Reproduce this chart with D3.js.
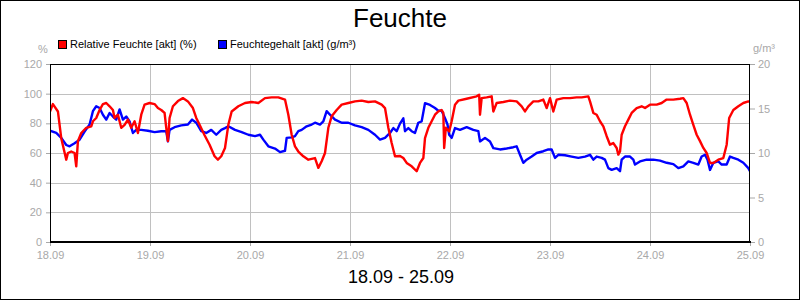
<!DOCTYPE html>
<html><head><meta charset="utf-8">
<script src="https://cdn.jsdelivr.net/npm/d3@7"></script>
<style>
body{margin:0;background:#fff;}
svg{display:block;font-family:"Liberation Sans",Arial,sans-serif;}
</style></head>
<body><svg id="c" width="800" height="300"></svg>
<script>
// ---- data ----
const dayLabels = ["18.09","19.09","20.09","21.09","22.09","23.09","24.09","25.09"];
const leftTicks = [0,20,40,60,80,100,120];
const rightTicks = [0,5,10,15,20];
const seriesNames = ["Relative Feuchte [akt] (%)","Feuchtegehalt [akt] (g/m³)"];
// hours since 18.09 00:00
const rhHours = [0,0.7,1.9,2.7,3.9,4.3,5.1,5.9,6.3,6.7,7.5,8.7,9.9,10.3,11.1,11.9,12.7,13.5,14.3,15.1,15.5,16.3,17.1,17.9,18.7,19.5,20.3,21.1,21.9,22.7,23.9,25.1,25.9,26.7,27.5,27.9,28.3,28.7,29.5,30.7,31.9,33.1,34.3,35.1,35.9,37.1,38.3,39.5,40.3,41.1,42.0,42.8,43.6,45.2,46.8,48.4,50.0,51.6,53.2,54.8,56.4,57.2,58.0,58.8,59.6,60.8,62.0,63.6,64.4,65.2,66.0,66.8,67.6,68.8,70.0,71.6,73.2,74.8,76.4,78.0,79.6,80.4,81.2,82.0,82.8,84.0,84.8,85.6,86.8,88.0,88.8,89.6,90.0,90.8,91.6,92.4,93.2,94.0,94.4,94.6,95.0,95.8,96.4,97.2,98.0,100.0,102.4,103.0,103.2,103.6,104.8,106.0,106.4,107.2,108.8,110.4,112.0,113.2,114.0,114.8,116.0,117.2,118.4,119.2,120.0,120.8,121.6,123.2,124.8,126.4,127.6,129.2,129.6,130.4,131.2,132.0,132.8,133.6,134.4,135.2,136.0,136.4,136.8,137.2,138.0,138.8,139.6,140.8,142.0,142.8,144.0,145.6,146.8,148.0,149.6,151.2,152.0,152.8,153.6,154.4,155.2,156.0,156.8,157.6,158.4,159.2,160.4,161.6,162.4,163.0,164.0,165.2,166.4,167.6,168.0];
const rhValues = [88,93,88,70,55.5,60,61,60,51,68,73.5,77,78,81.4,83.6,89,93,93.7,91.5,89,83.6,85.8,77,79,82.5,77,81.4,73.5,85.8,92.6,93.7,93,90.3,89,87,77,68,83.6,91.5,95,97,94.8,90.3,83.6,79,72,65.6,57.8,55.5,57.8,63.4,79,88,91.5,93.7,94.4,93.7,97,97.5,97.5,96,85.8,72.3,64.5,61,57.8,55.5,56.6,50,54.4,60,77,84.7,89,92.6,93.7,94.8,95.3,94.4,94.8,92.6,90.3,77,66.7,57.8,58,56.6,53.3,51,47.7,53.3,56.6,70,77,81.4,85.8,88,89,87,63.4,77,74.6,81.4,92.6,95.3,96.6,98.2,99.3,85.8,97,97.5,98.2,88,93.7,94.4,95.3,94.8,91.5,88,91.5,94.8,94.8,96,90.3,97,88,96,97,97,97.5,97.5,98.2,94.8,87,85.8,81.4,78,71.3,65.6,66.7,63.4,58.9,61,72.3,78,82.5,87,90.3,91.5,90.3,92.6,92.6,93.7,96,96,96.6,97,93.7,85.8,79,72.3,68,63.4,60,53.3,53.3,55.5,56.6,65.6,83.6,89,91.5,93.7,94.8,94.4];
const ahHours = [0,1.5,2.7,3.9,4.7,5.9,7.1,8.3,9.5,10.3,11.1,11.9,12.7,13.5,14.3,15.1,15.9,16.7,17.5,18.3,19.1,19.9,20.7,21.9,23.5,25.1,26.7,27.9,28.3,28.7,29.9,31.5,33.1,34.1,35.1,36.3,37.5,38.7,39.9,41.1,42.0,42.8,44.4,46.0,47.6,49.2,50.4,51.2,52.4,54.0,55.2,56.4,56.8,58.0,58.8,59.6,60.4,61.6,62.8,63.6,64.8,65.6,66.4,67.2,68.4,70.0,71.6,73.2,74.8,76.4,78.0,79.2,80.4,81.6,82.4,83.2,84.0,84.8,85.2,86.0,86.8,87.6,88.4,89.2,90.0,91.2,92.4,93.2,94.0,94.8,95.4,95.8,96.4,97.2,98.4,100.0,101.6,102.8,103.2,104.4,105.6,106.4,108.0,109.6,111.2,112.0,112.8,113.6,114.4,115.6,116.8,118.4,119.6,120.4,121.2,122.0,123.6,125.2,126.8,128.4,129.6,130.4,131.2,132.4,133.2,134.0,134.8,136.0,136.8,137.2,138.0,139.2,140.0,140.4,141.6,143.2,144.8,146.4,148.0,149.6,150.8,152.0,153.2,154.4,155.6,156.4,157.2,157.8,158.4,159.2,160.4,161.2,162.4,163.2,164.0,165.2,166.4,167.6,168.0];
const ahValues = [12.5,12.25,11.7,10.9,10.75,11.1,11.5,12.4,13.2,14.7,15.25,15.05,14.3,13.75,14.5,14.1,13.75,14.9,13.75,14.1,13.55,12.25,12.6,12.6,12.5,12.35,12.45,12.45,11.3,12.6,12.9,13.1,13.2,13.75,13.4,12.45,12.25,12.6,12.05,12.6,12.8,13.0,12.6,12.35,12.05,11.9,12.05,11.5,10.75,10.5,10.1,10.25,11.7,11.75,11.9,12.45,12.6,13.0,13.2,13.4,13.2,13.55,14.7,14.3,13.75,13.4,13.4,13.1,12.9,12.6,12.05,11.5,11.7,12.25,12.8,12.45,13.3,13.9,12.45,12.8,12.45,12.25,13.4,13.55,15.6,15.4,15.05,14.75,14.75,13.9,13.2,12.05,11.7,12.8,12.6,12.9,12.6,12.45,11.3,11.7,11.3,10.55,10.4,10.5,10.65,10.75,9.8,8.9,9.25,9.6,10.0,10.2,10.4,10.4,9.45,9.8,9.75,9.6,9.45,9.6,9.8,9.25,9.6,9.45,9.25,8.3,8.1,8.3,7.95,9.25,9.6,9.6,9.25,8.7,9.05,9.25,9.25,9.15,8.9,8.75,8.3,8.5,9.05,8.9,8.7,9.6,9.8,9.25,8.1,8.9,9.05,8.7,8.7,9.6,9.45,9.25,8.9,8.3,7.95];

// ---- layout ----
const svg = d3.select("#c");
const L=50, R=750, T=64, B=242;
const grey="#a8a8a8", gridC="#c0c0c0";
const x = d3.scaleLinear().domain([0,168]).range([L,R]);
const yL = d3.scaleLinear().domain([0,120]).range([B,T]);
const yR = d3.scaleLinear().domain([0,20]).range([B,T]);

svg.append("rect").attr("x",0.5).attr("y",0.5).attr("width",799).attr("height",299)
  .attr("fill","#fff").attr("stroke","#000");

// grid
const g = svg.append("g");
g.selectAll(".hg").data(leftTicks.filter(d=>d>0&&d<120)).join("line")
  .attr("x1",L).attr("x2",R).attr("y1",d=>Math.round(yL(d))+0.5).attr("y2",d=>Math.round(yL(d))+0.5)
  .attr("stroke",gridC);
g.selectAll(".vg").data(d3.range(1,7).map(d=>d*24)).join("line")
  .attr("y1",T).attr("y2",B).attr("x1",d=>Math.round(x(d))+0.5).attr("x2",d=>Math.round(x(d))+0.5)
  .attr("stroke",gridC);

// axes
function styleAxis(sel){
  sel.select(".domain").remove();
  sel.selectAll(".tick line").attr("stroke",grey);
  sel.selectAll(".tick text").attr("fill",grey).style("font-size","11px").style("font-family","Liberation Sans, Arial, sans-serif");
}
svg.append("g").attr("transform",`translate(${L},0)`)
  .call(d3.axisLeft(yL).tickValues(leftTicks).tickSize(4).tickPadding(4)).call(styleAxis);
svg.append("g").attr("transform",`translate(${R},0)`)
  .call(d3.axisRight(yR).tickValues(rightTicks).tickSize(5).tickPadding(3)).call(styleAxis);
svg.append("g").attr("transform",`translate(0,${B})`)
  .call(d3.axisBottom(x).tickValues(d3.range(0,8).map(d=>d*24)).tickFormat((d,i)=>dayLabels[i]).tickSize(4).tickPadding(5)).call(styleAxis);

// lines
const clip = svg.append("clipPath").attr("id","pc").append("rect").attr("x",L).attr("y",T).attr("width",R-L).attr("height",B-T);
const lineL = d3.line().x(d=>x(d[0])).y(d=>yL(d[1]));
const lineR = d3.line().x(d=>x(d[0])).y(d=>yR(d[1]));
svg.append("path").datum(ahHours.map((h,i)=>[h,ahValues[i]])).attr("d",lineR)
  .attr("fill","none").attr("stroke","#0000ff").attr("stroke-width",2.4).attr("stroke-linejoin","round").attr("clip-path","url(#pc)");
svg.append("path").datum(rhHours.map((h,i)=>[h,rhValues[i]])).attr("d",lineL)
  .attr("fill","none").attr("stroke","#ff0000").attr("stroke-width",2.4).attr("stroke-linejoin","round").attr("clip-path","url(#pc)");

// frame
svg.append("rect").attr("x",L+0.5).attr("y",T+0.5).attr("width",R-L-1).attr("height",B-T-1)
  .attr("fill","none").attr("stroke","#000");
svg.append("line").attr("x1",L).attr("x2",R+1).attr("y1",B).attr("y2",B).attr("stroke","#000").attr("stroke-width",2);

// titles
svg.append("text").attr("x",400).attr("y",27).attr("text-anchor","middle").style("font-size","26px").text("Feuchte");
svg.append("text").attr("x",401).attr("y",283).attr("text-anchor","middle").style("font-size","18px").text("18.09 - 25.09");
svg.append("text").attr("x",43).attr("y",53).attr("text-anchor","middle").attr("fill",grey).style("font-size","11px").text("%");
svg.append("text").attr("x",753).attr("y",52).attr("fill",grey).style("font-size","11px").text("g/m³");

// legend
const leg = svg.append("g");
const legX=[58,218], cols=["#ff0000","#0000ff"];
seriesNames.forEach((n,i)=>{
  leg.append("rect").attr("x",legX[i]+0.5).attr("y",40.5).attr("width",8).attr("height",8).attr("fill",cols[i]).attr("stroke","#000");
  leg.append("text").attr("x",legX[i]+12).attr("y",48).style("font-size","11px").text(n);
});
</script></body></html>
